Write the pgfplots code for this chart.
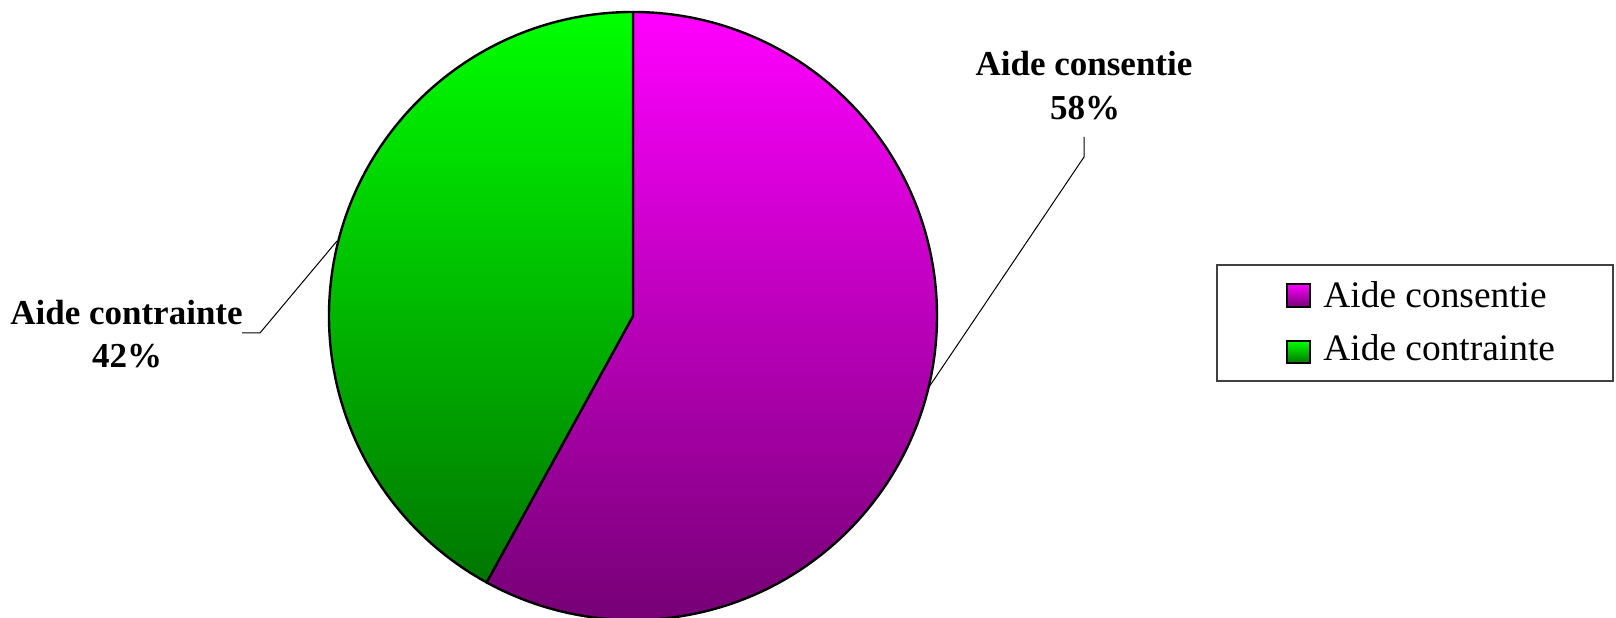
\documentclass[border=0pt]{standalone}
\usepackage{fontspec}
\setmainfont{Liberation Serif}
\usepackage{pgfplots}
\usepackage{pgfplotstable}
\pgfplotsset{compat=1.18}
\definecolor{magtop}{RGB}{255,0,255}
\definecolor{magbot}{RGB}{118,0,118}
\definecolor{grntop}{RGB}{0,255,0}
\definecolor{grnbot}{RGB}{0,118,0}
\pgfplotstableread{
label value
consentie 58
contrainte 42
}\piedata
\pgfplotstablegetelem{0}{value}\of\piedata \let\valA\pgfplotsretval
\pgfplotstablegetelem{1}{value}\of\piedata \let\valB\pgfplotsretval
\pgfmathsetmacro{\angA}{90-\valA/(\valA+\valB)*360}
\pgfmathsetmacro{\angB}{\angA+360}
\begin{document}
\begin{tikzpicture}
\path[use as bounding box] (0,0) rectangle (808bp,309bp);
\begin{axis}[at={(0,0)}, anchor=south west, width=808bp, height=309bp,
  scale only axis, xmin=0, xmax=1616, ymin=0, ymax=618, hide axis, clip=false]
% pie slices (center img (633,316), radius 304 px = 152bp)
\path[draw=black, line width=1.2bp, line join=round, top color=magtop, bottom color=magbot]
  (axis cs:633,302) -- ++(90:152bp) arc[start angle=90, end angle=\angA, radius=152bp] -- cycle;
\path[draw=black, line width=1.2bp, line join=round, top color=grntop, bottom color=grnbot]
  (axis cs:633,302) -- ++(90:152bp) arc[start angle=90, end angle=\angB, radius=152bp] -- cycle;
% leader lines
\draw[black, line width=0.5bp] (axis cs:1084,481) -- (axis cs:1084,461) -- (axis cs:927,228);
\draw[black, line width=0.5bp] (axis cs:242,285) -- (axis cs:260,285) -- (axis cs:337,377);
% data labels
\node[anchor=base, inner sep=0] at (axis cs:1084,542) {\fontsize{17.5bp}{20bp}\selectfont\bfseries Aide consentie};
\node[anchor=base, inner sep=0] at (axis cs:1085,498) {\fontsize{17.5bp}{20bp}\selectfont\bfseries \valA\%};
\node[anchor=base, inner sep=0] at (axis cs:126.5,293) {\fontsize{17.5bp}{20bp}\selectfont\bfseries Aide contrainte};
\node[anchor=base, inner sep=0] at (axis cs:127,250) {\fontsize{17.5bp}{20bp}\selectfont\bfseries \valB\%};
% legend
\draw[line width=0.6bp, black!75] (axis cs:1217,237) rectangle (axis cs:1613,353);
\path[draw=black, line width=1bp, top color=magtop, bottom color=magbot] (axis cs:1287,311) rectangle (axis cs:1310,334);
\path[draw=black, line width=1bp, top color=grntop, bottom color=grnbot] (axis cs:1287,255) rectangle (axis cs:1310,277);
\node[anchor=base west, inner sep=0] at (axis cs:1323,310) {\fontsize{18.7bp}{21bp}\selectfont Aide consentie};
\node[anchor=base west, inner sep=0] at (axis cs:1323,257) {\fontsize{18.7bp}{21bp}\selectfont Aide contrainte};
\end{axis}
\end{tikzpicture}
\end{document}
